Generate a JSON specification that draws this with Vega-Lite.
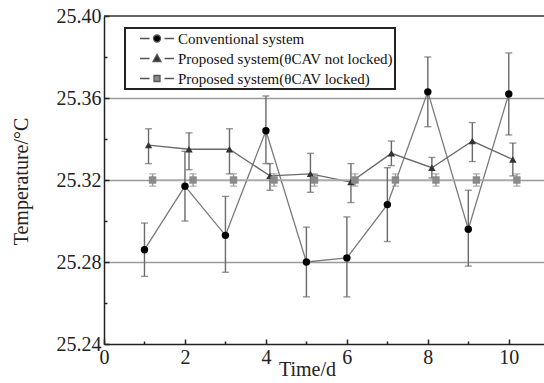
{
  "$schema": "https://vega.github.io/schema/vega-lite/v6.json",
  "autosize": {"type": "none"},
  "padding": {"left": 104, "top": 16, "right": 0, "bottom": 39},
  "width": 440,
  "height": 328,
  "config": {
    "view": {"stroke": null},
    "font": "Liberation Serif",
    "axis": {"labelFont": "Liberation Serif", "titleFont": "Liberation Serif"},
    "legend": {"labelFont": "Liberation Serif", "strokeColor": "#222", "strokeWidth": 2, "symbolSize": 225}
  },
  "datasets": {
    "main": [
      {"series": "Conventional system", "time": 1, "value": 25.286, "low": 25.273, "high": 25.299},
      {"series": "Conventional system", "time": 2, "value": 25.317, "low": 25.300, "high": 25.334},
      {"series": "Conventional system", "time": 3, "value": 25.293, "low": 25.275, "high": 25.312},
      {"series": "Conventional system", "time": 4, "value": 25.344, "low": 25.328, "high": 25.361},
      {"series": "Conventional system", "time": 5, "value": 25.280, "low": 25.263, "high": 25.297},
      {"series": "Conventional system", "time": 6, "value": 25.282, "low": 25.263, "high": 25.302},
      {"series": "Conventional system", "time": 7, "value": 25.308, "low": 25.290, "high": 25.326},
      {"series": "Conventional system", "time": 8, "value": 25.363, "low": 25.346, "high": 25.380},
      {"series": "Conventional system", "time": 9, "value": 25.296, "low": 25.278, "high": 25.315},
      {"series": "Conventional system", "time": 10, "value": 25.362, "low": 25.342, "high": 25.382},
      {"series": "Proposed system(θCAV not locked)", "time": 1.1, "value": 25.337, "low": 25.328, "high": 25.345},
      {"series": "Proposed system(θCAV not locked)", "time": 2.1, "value": 25.335, "low": 25.325, "high": 25.343},
      {"series": "Proposed system(θCAV not locked)", "time": 3.1, "value": 25.335, "low": 25.323, "high": 25.345},
      {"series": "Proposed system(θCAV not locked)", "time": 4.1, "value": 25.322, "low": 25.315, "high": 25.328},
      {"series": "Proposed system(θCAV not locked)", "time": 5.1, "value": 25.323, "low": 25.314, "high": 25.333},
      {"series": "Proposed system(θCAV not locked)", "time": 6.1, "value": 25.319, "low": 25.309, "high": 25.328},
      {"series": "Proposed system(θCAV not locked)", "time": 7.1, "value": 25.333, "low": 25.327, "high": 25.339},
      {"series": "Proposed system(θCAV not locked)", "time": 8.1, "value": 25.326, "low": 25.321, "high": 25.331},
      {"series": "Proposed system(θCAV not locked)", "time": 9.1, "value": 25.339, "low": 25.329, "high": 25.348},
      {"series": "Proposed system(θCAV not locked)", "time": 10.1, "value": 25.330, "low": 25.322, "high": 25.338},
      {"series": "Proposed system(θCAV locked)", "time": 1.2, "value": 25.320, "low": 25.317, "high": 25.323},
      {"series": "Proposed system(θCAV locked)", "time": 2.2, "value": 25.320, "low": 25.317, "high": 25.323},
      {"series": "Proposed system(θCAV locked)", "time": 3.2, "value": 25.320, "low": 25.317, "high": 25.323},
      {"series": "Proposed system(θCAV locked)", "time": 4.2, "value": 25.320, "low": 25.317, "high": 25.323},
      {"series": "Proposed system(θCAV locked)", "time": 5.2, "value": 25.320, "low": 25.317, "high": 25.323},
      {"series": "Proposed system(θCAV locked)", "time": 6.2, "value": 25.320, "low": 25.317, "high": 25.323},
      {"series": "Proposed system(θCAV locked)", "time": 7.2, "value": 25.320, "low": 25.317, "high": 25.323},
      {"series": "Proposed system(θCAV locked)", "time": 8.2, "value": 25.320, "low": 25.317, "high": 25.323},
      {"series": "Proposed system(θCAV locked)", "time": 9.2, "value": 25.320, "low": 25.317, "high": 25.323},
      {"series": "Proposed system(θCAV locked)", "time": 10.2, "value": 25.320, "low": 25.317, "high": 25.323}
    ]
  },
  "encoding": {
    "x": {
      "field": "time", "type": "quantitative",
      "scale": {"domain": [0, 10.87], "nice": false, "zero": false},
      "axis": {
        "title": "Time/d",
        "values": [0, 1, 2, 3, 4, 5, 6, 7, 8, 9, 10],
        "labelExpr": "datum.value % 2 === 0 ? datum.label : ''",
        "labelFontSize": 20, "labelColor": "#222", "labelFlush": false,
        "labelPadding": 8,
        "tickSize": {"condition": {"test": "datum.value % 2 === 0", "value": -5}, "value": -3},
        "tickColor": "#222", "tickWidth": 1.5,
        "domainColor": "#222", "domainWidth": 1.5,
        "grid": false,
        "titleFontSize": 20, "titleFontWeight": "normal", "titleColor": "#222",
        "titleX": 203, "titleY": 25, "titleBaseline": "middle", "titleAlign": "center"
      }
    },
    "y": {
      "field": "value", "type": "quantitative",
      "scale": {"domain": [25.24, 25.40], "nice": false, "zero": false},
      "axis": {
        "title": "Temperature/°C",
        "values": [25.24, 25.26, 25.28, 25.30, 25.32, 25.34, 25.36, 25.38, 25.40],
        "labelExpr": "indexof([25.24, 25.28, 25.32, 25.36, 25.4], datum.value) >= 0 ? format(datum.value, '.2f') : ''",
        "labelFontSize": 20, "labelColor": "#222",
        "labelPadding": 8,
        "tickSize": {"condition": {"test": "indexof([25.24, 25.28, 25.32, 25.36, 25.4], datum.value) >= 0", "value": -5}, "value": -3},
        "tickColor": "#222", "tickWidth": 1.5,
        "domainColor": "#222", "domainWidth": 1.5,
        "grid": true,
        "gridColor": "#9a9a9a", "gridWidth": 1.6,
        "gridOpacity": {"condition": {"test": "indexof([25.28, 25.32, 25.36], datum.value) >= 0", "value": 1}, "value": 0},
        "titleFontSize": 20, "titleFontWeight": "normal", "titleColor": "#222",
        "titleX": -83, "titleY": 165, "titleBaseline": "middle", "titleAlign": "center"
      }
    }
  },
  "layer": [
    {
      "data": {"values": [{"level": 25.40}]},
      "mark": {"type": "rule", "color": "#333", "strokeWidth": 1.5},
      "encoding": {"x": null, "y": {"field": "level", "type": "quantitative"}}
    },
    {
      "data": {"name": "main"},
      "mark": {"type": "line", "strokeWidth": 1.3},
      "encoding": {
        "color": {"field": "series", "type": "nominal", "legend": null,
          "scale": {"domain": ["Conventional system", "Proposed system(θCAV not locked)", "Proposed system(θCAV locked)"], "range": ["#7a7a7a", "#6a6a6a", "#b0b0b0"]}}
      }
    },
    {
      "data": {"name": "main"},
      "mark": {"type": "errorbar", "ticks": {"size": 7}, "thickness": 1.4},
      "encoding": {
        "y": {"field": "low", "type": "quantitative"},
        "y2": {"field": "high"},
        "color": {"field": "series", "type": "nominal", "legend": null,
          "scale": {"domain": ["Conventional system", "Proposed system(θCAV not locked)", "Proposed system(θCAV locked)"], "range": ["#6a6a6a", "#6a6a6a", "#9a9a9a"]}}
      }
    },
    {
      "data": {"name": "main"},
      "mark": {"type": "point", "filled": true, "opacity": 1, "size": 55},
      "encoding": {
        "shape": {"field": "series", "type": "nominal", "legend": null,
          "scale": {"domain": ["Conventional system", "Proposed system(θCAV not locked)", "Proposed system(θCAV locked)"], "range": ["circle", "triangle-up", "square"]}},
        "color": {"field": "series", "type": "nominal", "legend": null,
          "scale": {"domain": ["Conventional system", "Proposed system(θCAV not locked)", "Proposed system(θCAV locked)"], "range": ["#000000", "#333333", "#8a8a8a"]}}
      }
    },
    {
      "data": {"name": "main"},
      "transform": [{"filter": "false"}],
      "mark": {"type": "point", "filled": true, "opacity": 1, "stroke": "#555", "strokeWidth": 1.3},
      "encoding": {
        "shape": {"field": "series", "type": "nominal",
          "scale": {"domain": ["Conventional system", "Proposed system(θCAV not locked)", "Proposed system(θCAV locked)"],
            "range": [
              "M0.6,0H1.87M3.87,0H5.13M2.4,0A0.47,0.47 0 1,0 3.34,0A0.47,0.47 0 1,0 2.4,0Z",
              "M0.6,0H1.87M3.87,0H5.13M2.87,-0.55L3.4,0.4L2.34,0.4Z",
              "M0.6,0H1.87M3.87,0H5.13M2.47,-0.4H3.27V0.4H2.47Z"
            ]},
          "legend": {
            "title": null, "orient": "none", "legendX": 21, "legendY": 12,
            "labelFontSize": 15, "labelColor": "#111", "labelLimit": 400,
            "strokeColor": "#222", "padding": 2, "rowPadding": 3, "labelOffset": 34,
            "symbolSize": 225, "fillColor": "white", "symbolStrokeWidth": 1.3, "symbolStrokeColor": "#555"
          }
        },
        "color": {"field": "series", "type": "nominal",
          "scale": {"domain": ["Conventional system", "Proposed system(θCAV not locked)", "Proposed system(θCAV locked)"], "range": ["#000000", "#333333", "#8a8a8a"]}}
      }
    }
  ],
  "resolve": {"scale": {"color": "independent", "shape": "independent"}}
}
